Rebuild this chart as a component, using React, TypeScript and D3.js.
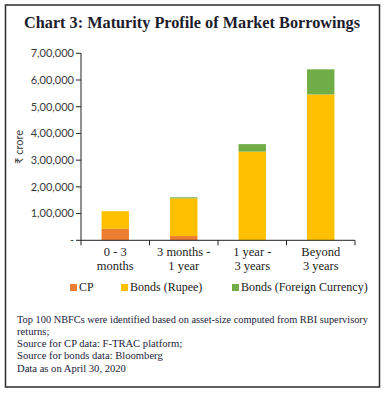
import React from "react";
import * as d3 from "d3";

// maturity buckets (two-line tick labels)
const buckets = ["0 - 3 months", "3 months - 1 year", "1 year - 3 years", "Beyond 3 years"];
const bucketLines = [["0 - 3", "months"], ["3 months -", "1 year"], ["1 year -", "3 years"], ["Beyond", "3 years"]];

// ₹ crore
const cp = [43000, 16000, 0, 0];
const bondsRupee = [66000, 141000, 332000, 546000];
const bondsForeign = [0, 4000, 28000, 94000];

const seriesKeys = ["CP", "Bonds (Rupee)", "Bonds (Foreign Currency)"];
const colors: Record<string, string> = {
  "CP": "#ED7D31",
  "Bonds (Rupee)": "#FFC000",
  "Bonds (Foreign Currency)": "#70AD47",
};

const yTicks = [0, 100000, 200000, 300000, 400000, 500000, 600000, 700000];

const notes = [
  "Top 100 NBFCs were identified based on asset-size computed from RBI supervisory",
  "returns;",
  "Source for CP data: F-TRAC platform;",
  "Source for bonds data: Bloomberg",
  "Data as on April 30, 2020",
];

const serif = "'Liberation Serif', 'Times New Roman', serif";
const sans = "Lato, 'DejaVu Sans', sans-serif";

// Indian digit grouping: 7,00,000
const fmtIndian = (v: number) => {
  if (v === 0) return "-";
  const s = String(Math.round(v));
  const last3 = s.slice(-3);
  let rest = s.slice(0, -3);
  const parts: string[] = [];
  while (rest.length > 2) {
    parts.unshift(rest.slice(-2));
    rest = rest.slice(0, -2);
  }
  if (rest) parts.unshift(rest);
  return parts.length ? parts.join(",") + "," + last3 : last3;
};

export default function App() {
  const width = 385;
  const height = 395;

  const rows = buckets.map((b, i) => ({
    bucket: b,
    "CP": cp[i],
    "Bonds (Rupee)": bondsRupee[i],
    "Bonds (Foreign Currency)": bondsForeign[i],
  }));

  const stacked = d3.stack<any>().keys(seriesKeys)(rows);

  const x = d3.scaleBand()
    .domain(buckets)
    .range([81, 355])
    .paddingInner(0.6)
    .paddingOuter(0.3);

  const y = d3.scaleLinear()
    .domain([0, 700000])
    .range([240.3, 53.3]);

  const boundaries = d3.range(buckets.length + 1).map(i => x.range()[0] + i * x.step());

  const legendItems = [
    { key: "CP", x: 70 },
    { key: "Bonds (Rupee)", x: 121 },
    { key: "Bonds (Foreign Currency)", x: 232 },
  ];

  return (
    <svg width={width} height={height} style={{ position: "absolute", left: 0, top: 0, background: "#fff" }}>
      <rect x={5.5} y={5} width={374} height={382} fill="none" stroke="#2b2b2b" strokeWidth={1.5} />

      <text x={192} y={28} textAnchor="middle" fontFamily={serif} fontWeight="bold" fontSize={16.5}
        fill="#1c1c2c" textLength={336} lengthAdjust="spacingAndGlyphs">
        Chart 3: Maturity Profile of Market Borrowings
      </text>

      {/* bars */}
      {stacked.map(layer => (
        <g key={layer.key} fill={colors[layer.key]}>
          {layer.map((d, i) => (
            d[1] - d[0] > 0 ? (
              <rect key={i}
                x={x(buckets[i])}
                y={y(d[1])}
                width={x.bandwidth()}
                height={y(d[0]) - y(d[1])} />
            ) : null
          ))}
        </g>
      ))}

      {/* y axis */}
      <line x1={81} x2={81} y1={y(700000)} y2={y(0)} stroke="#222" strokeWidth={1} />
      {yTicks.map(t => (
        <g key={t}>
          <line x1={76} x2={81} y1={y(t)} y2={y(t)} stroke="#222" strokeWidth={1} />
          <text x={74} y={y(t)} dy="0.35em" textAnchor="end" fontFamily={sans} fontSize={11} fill="#3a3a3a">
            {fmtIndian(t)}
          </text>
        </g>
      ))}
      <text transform={`translate(23, 147) rotate(-90)`} textAnchor="middle" fontFamily={sans} fontSize={11} fill="#3a3a3a">
        ₹ crore
      </text>

      {/* x axis */}
      <line x1={x.range()[0]} x2={x.range()[1]} y1={y(0)} y2={y(0)} stroke="#222" strokeWidth={1} />
      {boundaries.map((bx, i) => (
        <line key={i} x1={bx} x2={bx} y1={y(0)} y2={y(0) + 5} stroke="#222" strokeWidth={1} />
      ))}
      {buckets.map((b, i) => (
        <text key={b} x={(x(b) as number) + x.bandwidth() / 2} textAnchor="middle" fontFamily={serif} fontSize={12.5} fill="#222">
          {bucketLines[i].map((ln, j) => (
            <tspan key={j} x={(x(b) as number) + x.bandwidth() / 2} y={256 + j * 14}>{ln}</tspan>
          ))}
        </text>
      ))}

      {/* legend */}
      {legendItems.map(it => (
        <g key={it.key}>
          <rect x={it.x} y={284} width={7} height={7} fill={colors[it.key]} />
          <text x={it.x + 9} y={291} fontFamily={serif} fontSize={12} fill="#222">{it.key}</text>
        </g>
      ))}

      {/* notes */}
      {notes.map((n, i) => (
        <text key={i} x={17} y={322.7 + i * 12.25} fontFamily={serif} fontSize={10.6} fill="#1c1c3a"
          textLength={i === 0 ? 351 : undefined} lengthAdjust="spacingAndGlyphs">
          {n}
        </text>
      ))}
    </svg>
  );
}
